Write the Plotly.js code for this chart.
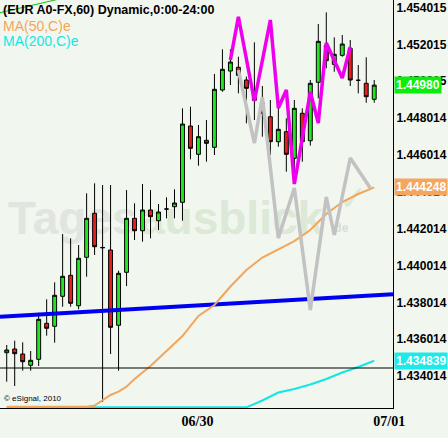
<!DOCTYPE html>
<html>
<head>
<meta charset="utf-8">
<script src="https://cdn.plot.ly/plotly-3.0.1.min.js"></script>
<style>html,body{margin:0;padding:0;background:#f1f6ef;}</style>
</head>
<body>
<div id="chart" style="width:448px;height:438px;"></div>
<script>
// ---- DATA (EUR A0-FX, 60 min) ----
const startTime = '2010-06-29 02:00:00';
const opens  = [1.435278,1.435479,1.435208,1.434595,1.434920,1.436874,1.436711,1.438339,1.439479,1.437829,
                1.440456,1.442844,1.440990,1.440852,1.436765,1.439642,1.442572,1.441899,1.443023,1.442442,
                1.443077,1.443202,1.443441,1.447582,1.446046,1.446805,1.446426,1.449535,1.450566,1.450767,
                1.450078,1.449427,1.448813,1.448086,1.446730,1.447272,1.445829,1.448271,1.446784,1.449953,
                1.451961,1.450930,1.451418,1.451798,1.450062,1.449899,1.449031];
const highs  = [1.435696,1.435930,1.435843,1.435371,1.437449,1.438177,1.439099,1.441720,1.441487,1.441123,
                1.443929,1.444472,1.444380,1.444380,1.439729,1.444108,1.443387,1.444434,1.444108,1.443348,
                1.443712,1.444146,1.448542,1.448629,1.447636,1.447907,1.450404,1.451744,1.451744,1.451342,
                1.450268,1.452124,1.449752,1.448993,1.448993,1.447999,1.448993,1.448542,1.450078,1.453117,
                1.453752,1.452395,1.452520,1.452249,1.450892,1.451310,1.450078];
const lows   = [1.433705,1.433471,1.434302,1.434302,1.434557,1.436201,1.435821,1.437775,1.437775,1.437634,
                1.439403,1.440581,1.432603,1.435208,1.434302,1.438898,1.441395,1.441303,1.441487,1.441937,
                1.442572,1.442572,1.442442,1.445774,1.445427,1.445644,1.446008,1.449443,1.449807,1.449356,
                1.447728,1.447907,1.447001,1.446008,1.446458,1.445101,1.444504,1.445644,1.446513,1.449085,
                1.450713,1.450528,1.451342,1.449752,1.449356,1.448846,1.448846];
const closes = [1.435425,1.435224,1.434790,1.434866,1.437091,1.436603,1.438394,1.439425,1.437959,1.440402,
                1.442572,1.441031,1.440977,1.436657,1.439588,1.442572,1.441899,1.443023,1.442659,1.442914,
                1.443077,1.443403,1.447690,1.446371,1.447001,1.446643,1.449573,1.450659,1.451055,1.450333,
                1.449627,1.448976,1.448271,1.446730,1.447402,1.446046,1.448542,1.446730,1.449899,1.452178,
                1.451125,1.451473,1.452032,1.450078,1.450062,1.449172,1.449800];

// MA(50,C) — candle index / value
const ma50Idx = [0,10,11,12,13,14,15,16,18,20,22,24,26,28,30,32,34,36,38,40,42,44,46];
const ma50Val = [1.432348,1.432348,1.432413,1.432684,1.432983,1.433162,1.433433,1.433851,1.434557,1.435371,
                 1.436185,1.437270,1.437867,1.438871,1.439767,1.440445,1.440906,1.441340,1.441937,1.442806,
                 1.443457,1.443891,1.444248];
// MA(200,C)
const ma200Idx = [0,30,32,34,36,38,40,42,44,46];
const ma200Val = [1.432315,1.432315,1.432684,1.433119,1.433308,1.433553,1.433851,1.434204,1.434502,1.434839];

// zigzag lines
const magentaIdx = [28,29,31,33,34,35,36,38,39,40,42,43];
const magentaVal = [1.451163,1.453513,1.448938,1.453334,1.448558,1.449535,1.444434,1.449427,1.447744,1.452086,1.450186,1.451869];
const grayIdx = [29,31,32,34,36,38,40,41,43,45.5];
const grayVal = [1.450621,1.446659,1.449155,1.441503,1.444217,1.437596,1.443728,1.441666,1.445845,1.444217];

// drawn lines
const blueIdx = [-0.84, 48.35];
const blueVal = [1.437233, 1.438448];
const greenIdx = [-0.84, 10];
const greenVal = [1.453732, 1.454817];
const supportLevel = 1.434448;

// axes
const yTickVals = [1.434014,1.436014,1.438014,1.440014,1.442014,1.444014,1.446014,1.448014,1.450015,1.452015,1.454015];
const yTickText = ['1.434014','1.436014','1.438014','1.440014','1.442014','1.444014','1.446014','1.448014','1.450015','1.452015','1.454015'];
const xTickIdx = [22, 46];
const xTickText = ['06/30', '07/01'];
const lastLabels = [
  {text:'1.44980',  value:1.449800, bg:'#0aee0a'},
  {text:'1.444248', value:1.444248, bg:'#f4a55e'},
  {text:'1.434839', value:1.434839, bg:'#1de9e9'}
];

// ---- helpers ----
const t0 = new Date(startTime.replace(' ','T') + 'Z').getTime();
function tAt(i){ return new Date(t0 + i*3600000).toISOString().replace('T',' ').slice(0,19); }
const times = opens.map((_, i) => tAt(i));

const traces = [
  {type:'scatter', mode:'lines', x:blueIdx.map(tAt), y:blueVal, line:{color:'#0000f0', width:4}, hoverinfo:'skip'},
  {type:'scatter', mode:'lines', x:greenIdx.map(tAt), y:greenVal, line:{color:'#10c010', width:1}, hoverinfo:'skip'},
  {type:'scatter', mode:'lines', x:ma200Idx.map(tAt), y:ma200Val, line:{color:'#13e6e6', width:2}, hoverinfo:'skip'},
  {type:'scatter', mode:'lines', x:ma50Idx.map(tAt), y:ma50Val, line:{color:'#f4a55a', width:2}, hoverinfo:'skip'},
  {type:'scatter', mode:'lines', x:grayIdx.map(tAt), y:grayVal, line:{color:'#c2c2c2', width:3.5}, hoverinfo:'skip'},
  {type:'scatter', mode:'lines', x:magentaIdx.map(tAt), y:magentaVal, line:{color:'#ee00ee', width:3.5}, hoverinfo:'skip'},
  {type:'candlestick', x:times, open:opens, high:highs, low:lows, close:closes,
   increasing:{line:{color:'#000000', width:1}, fillcolor:'#22e622'},
   decreasing:{line:{color:'#000000', width:1}, fillcolor:'#e61e1e'},
   whiskerwidth:0, hoverinfo:'skip'}
];

const W = 393, H = 408; // plot area px
const px = v => v / W, py = v => 1 - v / H;
const wmFont = 'Liberation Sans, Arial, sans-serif';

const layout = {
  width:448, height:438, autosize:false,
  margin:{l:0, r:55, t:0, b:30, pad:0},
  paper_bgcolor:'#f1f6ef', plot_bgcolor:'#f1f6ef',
  showlegend:false,
  xaxis:{type:'date', range:[tAt(-0.84), tAt(48.35)], rangeslider:{visible:false},
         showgrid:false, zeroline:false, showline:true, linecolor:'#000', linewidth:1,
         tickvals:xTickIdx.map(tAt), ticktext:xTickText, ticks:'', ticklabelshift:15,
         tickfont:{family:'Liberation Serif, Times New Roman, serif', size:14, color:'#000', weight:'bold'}},
  yaxis:{side:'right', range:[1.432277, 1.454421], showgrid:false, zeroline:false,
         showline:true, linecolor:'#000', linewidth:1, ticks:'',
         tickvals:yTickVals, ticktext:yTickText,
         tickfont:{family:'Liberation Sans, Arial, sans-serif', size:12, color:'#000', weight:'bold'}},
  shapes:[
    {type:'line', xref:'paper', yref:'y', x0:0, x1:1, y0:supportLevel, y1:supportLevel, line:{color:'#000', width:1}},
    {type:'rect', xref:'paper', yref:'paper', layer:'below', x0:px(5), x1:px(138), y0:py(243), y1:py(185),
     line:{width:0}, label:{text:'Tages', textposition:'middle left', padding:0,
     font:{family:wmFont, size:46, color:'#e1e5e0', weight:'bold'}}},
    {type:'rect', xref:'paper', yref:'paper', layer:'below', x0:px(136), x1:px(330), y0:py(243), y1:py(185),
     line:{width:0}, label:{text:'ausblick', textposition:'middle left', padding:0,
     font:{family:wmFont, size:46, color:'#dbe9d6', weight:'bold'}}},
    {type:'rect', xref:'paper', yref:'paper', layer:'below', x0:px(336), x1:px(384), y0:py(215), y1:py(176),
     line:{width:0}, label:{text:'✓', textposition:'middle left', padding:0,
     font:{family:'DejaVu Sans, sans-serif', size:34, color:'#dbe9d6', weight:'bold'}}},
    {type:'rect', xref:'paper', yref:'paper', layer:'below', x0:px(328), x1:px(350), y0:py(234), y1:py(220),
     line:{width:0}, label:{text:'.de', textposition:'middle left', padding:0,
     font:{family:wmFont, size:12, color:'#d9ddd8', weight:'bold'}}}
  ],
  annotations:[
    {xref:'paper', yref:'paper', x:px(1), y:py(1), xanchor:'left', yanchor:'top', showarrow:false,
     text:'(EUR A0-FX,60) Dynamic,0:00-24:00', font:{family:'Liberation Sans, Arial, sans-serif', size:12.5, color:'#000', weight:'bold'}},
    {xref:'paper', yref:'paper', x:px(1), y:py(16), xanchor:'left', yanchor:'top', showarrow:false,
     text:'MA(50,C)e', font:{family:'Liberation Sans, Arial, sans-serif', size:14, color:'#f4a55a'}},
    {xref:'paper', yref:'paper', x:px(1), y:py(31), xanchor:'left', yanchor:'top', showarrow:false,
     text:'MA(200,C)e', font:{family:'Liberation Sans, Arial, sans-serif', size:14, color:'#13e6e6'}},
    {xref:'paper', yref:'paper', x:px(2), y:py(405), xanchor:'left', yanchor:'bottom', showarrow:false,
     text:'© eSignal, 2010', font:{family:'Liberation Sans, Arial, sans-serif', size:8, color:'#000'}}
  ].concat(lastLabels.map(l => ({
     xref:'paper', yref:'y', x:1, xshift:1, y:l.value, xanchor:'left', yanchor:'middle', showarrow:false,
     text:l.text, bgcolor:l.bg, borderpad:1,
     font:{family:'Liberation Sans, Arial, sans-serif', size:12, color:'#ffffff', weight:'bold'}})))
};

Plotly.newPlot('chart', traces, layout, {displayModeBar:false, staticPlot:true});
</script>
</body>
</html>
